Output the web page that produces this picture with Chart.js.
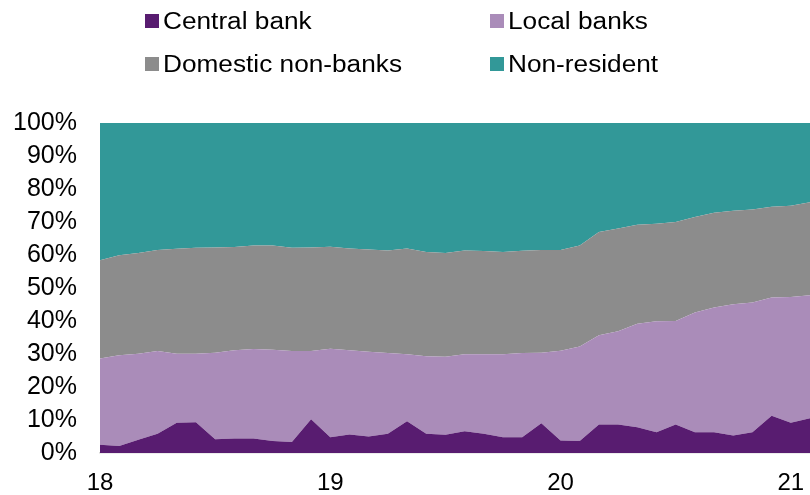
<!DOCTYPE html>
<html>
<head>
<meta charset="utf-8">
<script src="https://cdn.jsdelivr.net/npm/chart.js@4/dist/chart.umd.min.js"></script>
<style>
  html, body { margin: 0; padding: 0; background: #fff; }
  #wrap { position: relative; width: 810px; height: 495px; overflow: hidden; }
  canvas { position: absolute; left: 0; top: 0; }
  .lg { position: absolute; font-family: "Liberation Sans", Arial, sans-serif; font-size: 23px; line-height: 28px; color: #000; white-space: nowrap; transform: scaleX(1.14); transform-origin: left center; }
  .sw { position: absolute; width: 14px; height: 14px; }
</style>
</head>
<body>
<div id="wrap">
  <canvas id="c" width="810" height="495"></canvas>
  <div id="legend"></div>
</div>
<script>
// Monthly observations, Jan 2018 – Feb 2021
const months = [
  '2018-01','2018-02','2018-03','2018-04','2018-05','2018-06','2018-07','2018-08','2018-09','2018-10','2018-11','2018-12',
  '2019-01','2019-02','2019-03','2019-04','2019-05','2019-06','2019-07','2019-08','2019-09','2019-10','2019-11','2019-12',
  '2020-01','2020-02','2020-03','2020-04','2020-05','2020-06','2020-07','2020-08','2020-09','2020-10','2020-11','2020-12',
  '2021-01','2021-02'
];

// Year labels shown on the horizontal axis (placed at each January)
const yearTicks = ['18', '19', '20', '21'];

// Shares of holdings, % of total
const centralBank = [2.5,2.1,4.0,5.8,9.2,9.3,4.2,4.4,4.4,3.6,3.3,10.2,4.8,5.6,5.0,5.8,9.6,5.8,5.5,6.6,5.8,4.8,4.8,9.0,3.8,3.6,8.6,8.6,7.8,6.3,8.6,6.3,6.3,5.3,6.3,11.3,9.2,10.5];
const localBanks = [26.1,27.5,26.1,25.1,20.9,20.8,26.2,26.7,27.1,27.7,27.6,20.7,26.8,25.5,25.7,24.5,20.3,23.5,23.7,23.3,24.1,25.1,25.5,21.4,27.2,28.7,27.1,28.3,31.4,33.6,31.4,36.3,37.8,39.8,39.3,35.8,38.1,37.3];
const domesticNonBanks = [29.8,30.3,30.5,30.6,31.8,32.1,31.9,31.3,31.4,31.6,31.3,31.4,30.9,30.9,31.0,31.1,32.1,31.6,31.4,31.5,31.3,31.0,31.0,31.1,30.5,30.6,31.3,31.1,30.0,29.6,30.0,28.9,28.7,28.3,28.2,27.5,27.6,28.2];
const nonResident = [41.6,40.1,39.4,38.5,38.1,37.8,37.7,37.6,37.1,37.1,37.8,37.7,37.5,38.0,38.3,38.6,38.0,39.1,39.4,38.6,38.8,39.1,38.7,38.5,38.5,37.1,33.0,32.0,30.8,30.5,30.0,28.5,27.2,26.6,26.2,25.4,25.1,24.0];

const seriesNames = ['Central bank', 'Local banks', 'Domestic non-banks', 'Non-resident'];
const seriesColors = ['#581c70', '#aa8cb9', '#8c8c8c', '#329898'];
const seriesData = [centralBank, localBanks, domesticNonBanks, nonResident];

const FONT = '"Liberation Sans", Arial, sans-serif';

const datasets = seriesData.map((d, i) => ({
  label: seriesNames[i],
  data: d,
  backgroundColor: seriesColors[i],
  borderColor: seriesColors[i],
  borderWidth: 0,
  pointRadius: 0,
  tension: 0,
  fill: i === 0 ? 'origin' : '-1'
}));

new Chart(document.getElementById('c'), {
  type: 'line',
  data: { labels: months, datasets },
  options: {
    responsive: false,
    animation: false,
    layout: { padding: { top: 123, left: 0, right: 0, bottom: 0 } },
    plugins: { legend: { display: false }, tooltip: { enabled: false } },
    scales: {
      x: {
        grid: { display: false, drawTicks: false },
        border: { display: true, color: '#d9d9d9', width: 1.5 },
        ticks: {
          autoSkip: false,
          maxRotation: 0,
          padding: 16,
          color: '#000',
          font: { family: FONT, size: 24 },
          callback: (v, idx) => {
            const m = months[idx];
            if (m.endsWith('-01')) {
              const yi = parseInt(m.slice(0, 4), 10) - 2018;
              return yearTicks[yi];
            }
            return '';
          }
        },
        afterFit: s => { s.height = 42; s.paddingRight = 0; s.paddingLeft = 0; }
      },
      y: {
        stacked: true,
        min: 0,
        max: 100,
        grid: { display: false, drawTicks: false },
        border: { display: false },
        ticks: {
          stepSize: 10,
          padding: 23,
          color: '#000',
          font: { family: FONT, size: 25 },
          callback: v => v + '%'
        },
        afterFit: s => { s.width = 100; }
      }
    }
  }
});

// Two-column legend above the plot
const legendPos = [
  { x: 145, y: 14 }, { x: 490, y: 14 },
  { x: 145, y: 57 }, { x: 490, y: 57 }
];
const lg = document.getElementById('legend');
seriesNames.forEach((name, i) => {
  const p = legendPos[i];
  const sw = document.createElement('div');
  sw.className = 'sw';
  sw.style.left = p.x + 'px';
  sw.style.top = p.y + 'px';
  sw.style.background = seriesColors[i];
  lg.appendChild(sw);
  const t = document.createElement('div');
  t.className = 'lg';
  t.style.left = (p.x + 18) + 'px';
  t.style.top = (p.y - 7) + 'px';
  t.textContent = name;
  lg.appendChild(t);
});
</script>
</body>
</html>
